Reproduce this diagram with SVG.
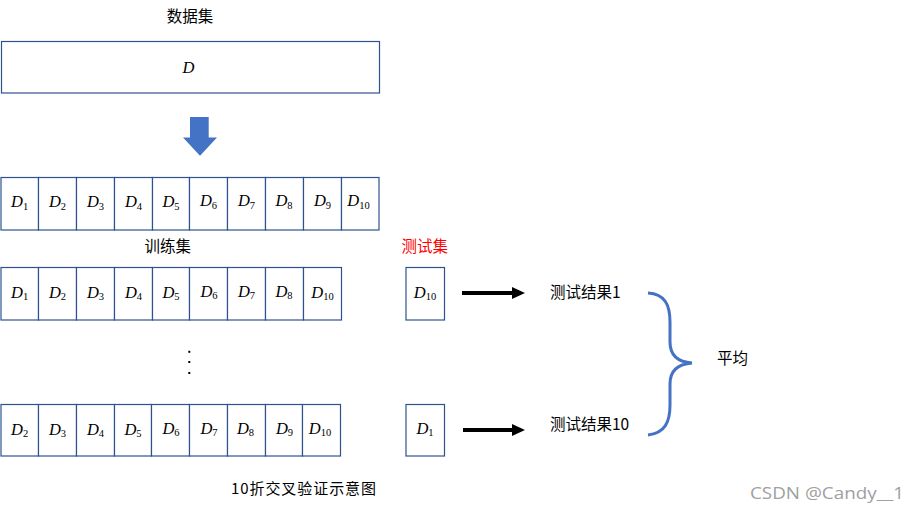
<svg xmlns="http://www.w3.org/2000/svg" width="918" height="514" viewBox="0 0 918 514">
<style>
.cell{fill:#fff;stroke:#2F528F;stroke-width:1.2}
.d{font-family:"Liberation Serif",serif;font-style:italic;font-size:16.5px;fill:#000;text-anchor:middle}
.s{font-size:10.5px;font-style:normal}
.cn{font-family:"Noto Sans CJK SC",sans-serif;font-size:15.5px;fill:#000}
.arr{stroke:#000;stroke-width:4}
</style>
<rect width="918" height="514" fill="#fff"/>
<text class="cn" x="190" y="21.5" text-anchor="middle">数据集</text>
<g id="dataset">
<rect class="cell" x="1.5" y="41.5" width="378" height="51.5"/>
<text class="d" x="188.5" y="72.7">D</text>
</g>
<g id="split-arrow"><polygon points="190,117 208.7,117 208.7,137.5 217,137.5 200,155.7 183,137.5 190,137.5" fill="#4472C4"/></g>
<g id="fold-row">
<g id="f1"><rect class="cell" x="1" y="177.5" width="37.5" height="52.5"/><text class="d" x="19.7" y="207">D<tspan class="s" dy="2.5">1</tspan></text></g>
<g id="f2"><rect class="cell" x="38.5" y="177.5" width="38" height="52.5"/><text class="d" x="57.5" y="207">D<tspan class="s" dy="2.5">2</tspan></text></g>
<g id="f3"><rect class="cell" x="76.5" y="177.5" width="38" height="52.5"/><text class="d" x="95.5" y="207">D<tspan class="s" dy="2.5">3</tspan></text></g>
<g id="f4"><rect class="cell" x="114.5" y="177.5" width="38" height="52.5"/><text class="d" x="133.5" y="207">D<tspan class="s" dy="2.5">4</tspan></text></g>
<g id="f5"><rect class="cell" x="152.5" y="177.5" width="37" height="52.5"/><text class="d" x="171" y="207">D<tspan class="s" dy="2.5">5</tspan></text></g>
<g id="f6"><rect class="cell" x="189.5" y="177.5" width="38" height="52.5"/><text class="d" x="208.5" y="206">D<tspan class="s" dy="2.5">6</tspan></text></g>
<g id="f7"><rect class="cell" x="227.5" y="177.5" width="38" height="52.5"/><text class="d" x="246.5" y="206">D<tspan class="s" dy="2.5">7</tspan></text></g>
<g id="f8"><rect class="cell" x="265.5" y="177.5" width="38" height="52.5"/><text class="d" x="284" y="206">D<tspan class="s" dy="2.5">8</tspan></text></g>
<g id="f9"><rect class="cell" x="303.5" y="177.5" width="38" height="52.5"/><text class="d" x="322.5" y="206">D<tspan class="s" dy="2.5">9</tspan></text></g>
<g id="f10"><rect class="cell" x="341.5" y="177.5" width="37.5" height="52.5"/><text class="d" x="358.5" y="206">D<tspan class="s" dy="2.5">10</tspan></text></g>
</g>
<text class="cn" x="144.5" y="251.5">训练集</text>
<text class="cn" x="401.5" y="251.5" fill="#FF0000" style="fill:#FF0000">测试集</text>
<g id="train-1">
<g><rect class="cell" x="1" y="267.5" width="37.5" height="52.5"/><text class="d" x="19.7" y="297.5">D<tspan class="s" dy="2.5">1</tspan></text></g>
<g><rect class="cell" x="38.5" y="267.5" width="38" height="52.5"/><text class="d" x="57.5" y="297.5">D<tspan class="s" dy="2.5">2</tspan></text></g>
<g><rect class="cell" x="76.5" y="267.5" width="38" height="52.5"/><text class="d" x="95.5" y="297.5">D<tspan class="s" dy="2.5">3</tspan></text></g>
<g><rect class="cell" x="114.5" y="267.5" width="38" height="52.5"/><text class="d" x="133.5" y="297.5">D<tspan class="s" dy="2.5">4</tspan></text></g>
<g><rect class="cell" x="152.5" y="267.5" width="37" height="52.5"/><text class="d" x="171" y="297.5">D<tspan class="s" dy="2.5">5</tspan></text></g>
<g><rect class="cell" x="189.5" y="267.5" width="38" height="52.5"/><text class="d" x="209" y="296.5">D<tspan class="s" dy="2.5">6</tspan></text></g>
<g><rect class="cell" x="227.5" y="267.5" width="38" height="52.5"/><text class="d" x="246.5" y="296.5">D<tspan class="s" dy="2.5">7</tspan></text></g>
<g><rect class="cell" x="265.5" y="267.5" width="38" height="52.5"/><text class="d" x="284" y="296.5">D<tspan class="s" dy="2.5">8</tspan></text></g>
<g><rect class="cell" x="303.5" y="267.5" width="38" height="52.5"/><text class="d" x="322.5" y="297.5">D<tspan class="s" dy="2.5">10</tspan></text></g>
</g>
<g id="test-1"><rect class="cell" x="406" y="267.5" width="38.5" height="52.5"/><text class="d" x="425" y="297.5">D<tspan class="s" dy="2.5">10</tspan></text></g>
<g id="ellipsis" fill="#000">
<rect x="188.3" y="350.8" width="2" height="2"/>
<rect x="188.3" y="361" width="2" height="2"/>
<rect x="188.3" y="372" width="2" height="2"/>
</g>
<g id="train-10">
<g><rect class="cell" x="1" y="404.5" width="37.5" height="51.5"/><text class="d" x="19.7" y="434.5">D<tspan class="s" dy="2.5">2</tspan></text></g>
<g><rect class="cell" x="38.5" y="404.5" width="38" height="51.5"/><text class="d" x="57.5" y="434.5">D<tspan class="s" dy="2.5">3</tspan></text></g>
<g><rect class="cell" x="76.5" y="404.5" width="38" height="51.5"/><text class="d" x="95.5" y="434.5">D<tspan class="s" dy="2.5">4</tspan></text></g>
<g><rect class="cell" x="114.5" y="404.5" width="37" height="51.5"/><text class="d" x="133" y="434.5">D<tspan class="s" dy="2.5">5</tspan></text></g>
<g><rect class="cell" x="151.5" y="404.5" width="38" height="51.5"/><text class="d" x="171" y="433.5">D<tspan class="s" dy="2.5">6</tspan></text></g>
<g><rect class="cell" x="189.5" y="404.5" width="38" height="51.5"/><text class="d" x="209" y="433.5">D<tspan class="s" dy="2.5">7</tspan></text></g>
<g><rect class="cell" x="227.5" y="404.5" width="38" height="51.5"/><text class="d" x="245.5" y="433.5">D<tspan class="s" dy="2.5">8</tspan></text></g>
<g><rect class="cell" x="265.5" y="404.5" width="37" height="51.5"/><text class="d" x="284.5" y="433.5">D<tspan class="s" dy="2.5">9</tspan></text></g>
<g><rect class="cell" x="302.5" y="404.5" width="38" height="51.5"/><text class="d" x="320" y="433.5">D<tspan class="s" dy="2.5">10</tspan></text></g>
</g>
<g id="test-10"><rect class="cell" x="406" y="404.5" width="38.5" height="51.5"/><text class="d" x="425" y="433.5">D<tspan class="s" dy="2.5">1</tspan></text></g>
<g id="connectors">
<line class="arr" x1="462" y1="293" x2="514" y2="293"/>
<polygon points="512,287 525,293 512,299" fill="#000"/>
<line class="arr" x1="463" y1="430" x2="514" y2="430"/>
<polygon points="512,424 525,430 512,436" fill="#000"/>
<path d="M648,293 C665,294 670,305 670,322 L670,342 C670,355 678,362 692,363 C678,364 670,371 670,384 L670,405 C670,422 665,433 648,435" fill="none" stroke="#4472C4" stroke-width="3"/>
</g>
<g id="result-1"><text class="cn" x="550" y="297.5">测试结果1</text></g>
<g id="result-10"><text class="cn" x="550" y="430">测试结果10</text></g>
<g id="average"><text class="cn" x="717" y="364">平均</text></g>
<text class="cn" x="231" y="494" font-size="15" style="font-size:15px" textLength="145" lengthAdjust="spacing">10折交叉验证示意图</text>
<text x="750" y="499" font-family="'Open Sans','Liberation Sans',sans-serif" font-size="17" fill="#A0A0A0" textLength="154" lengthAdjust="spacingAndGlyphs">CSDN @Candy__1</text>
</svg>
